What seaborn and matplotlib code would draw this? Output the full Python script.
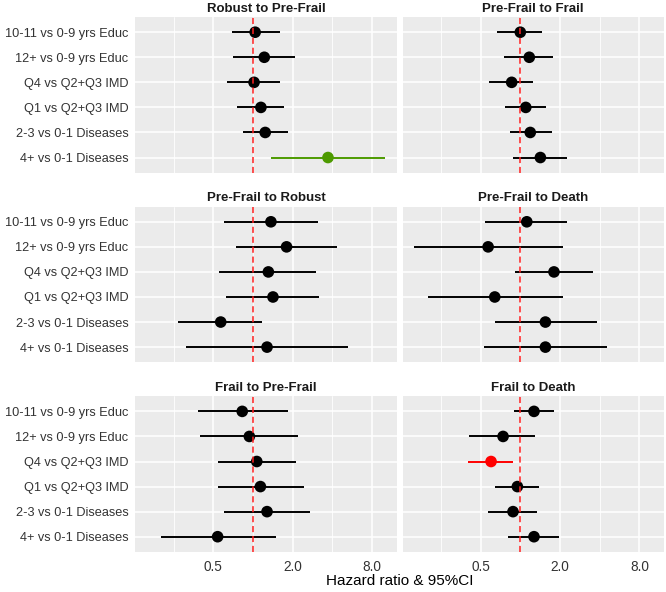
import matplotlib
matplotlib.use("Agg")
import matplotlib.pyplot as plt
import matplotlib.ticker as mticker
import pandas as pd
import seaborn as sns

# Faktörler (yukarıdan aşağıya) ve geçişler
factors = [
    "10-11 vs 0-9 yrs Educ",
    "12+ vs 0-9 yrs Educ",
    "Q4 vs Q2+Q3 IMD",
    "Q1 vs Q2+Q3 IMD",
    "2-3 vs 0-1 Diseases",
    "4+ vs 0-1 Diseases",
]
transitions = [
    "Robust to Pre-Frail",
    "Pre-Frail to Frail",
    "Pre-Frail to Robust",
    "Pre-Frail to Death",
    "Frail to Pre-Frail",
    "Frail to Death",
]

# Hazard ratio, alt ve üst %95 GA
hr_rob_pre = [1.04, 1.22, 1.02, 1.15, 1.24, 3.71]
lo_rob_pre = [0.69, 0.71, 0.64, 0.76, 0.84, 1.38]
hi_rob_pre = [1.60, 2.09, 1.60, 1.72, 1.83, 9.99]

hr_pre_frail = [1.00, 1.17, 0.86, 1.10, 1.19, 1.42]
lo_pre_frail = [0.67, 0.75, 0.58, 0.76, 0.83, 0.88]
hi_pre_frail = [1.45, 1.77, 1.25, 1.57, 1.74, 2.28]

hr_pre_rob = [1.37, 1.80, 1.31, 1.42, 0.57, 1.28]
lo_pre_rob = [0.60, 0.74, 0.55, 0.63, 0.27, 0.31]
hi_pre_rob = [3.10, 4.36, 3.03, 3.17, 1.18, 5.28]

hr_pre_death = [1.12, 0.57, 1.80, 0.64, 1.55, 1.55]
lo_pre_death = [0.54, 0.157, 0.91, 0.20, 0.64, 0.53]
hi_pre_death = [2.28, 2.10, 3.58, 2.10, 3.80, 4.58]

hr_frail_pre = [0.83, 0.94, 1.07, 1.14, 1.28, 0.54]
lo_frail_pre = [0.38, 0.40, 0.54, 0.54, 0.60, 0.20]
hi_frail_pre = [1.86, 2.21, 2.12, 2.43, 2.73, 1.49]

hr_frail_death = [1.27, 0.74, 0.60, 0.95, 0.88, 1.27]
lo_frail_death = [0.89, 0.41, 0.40, 0.64, 0.57, 0.81]
hi_frail_death = [1.80, 1.29, 0.88, 1.39, 1.35, 1.97]

# Anlamlılık: ns / artış / azalış
sig_rob_pre = ["ns", "ns", "ns", "ns", "ns", "up"]
sig_frail_death = ["ns", "ns", "down", "ns", "ns", "ns"]

palette = {"ns": "black", "up": "#4D9A00", "down": "#FF0000"}

series = [
    (hr_rob_pre, lo_rob_pre, hi_rob_pre, sig_rob_pre),
    (hr_pre_frail, lo_pre_frail, hi_pre_frail, ["ns"] * 6),
    (hr_pre_rob, lo_pre_rob, hi_pre_rob, ["ns"] * 6),
    (hr_pre_death, lo_pre_death, hi_pre_death, ["ns"] * 6),
    (hr_frail_pre, lo_frail_pre, hi_frail_pre, ["ns"] * 6),
    (hr_frail_death, lo_frail_death, hi_frail_death, sig_frail_death),
]

rows = []
for trans, (hr, lo, hi, sig) in zip(transitions, series):
    for i, f in enumerate(factors):
        rows.append({"transition": trans, "factor": f, "ypos": i,
                     "hr": hr[i], "lo": lo[i], "hi": hi[i], "sig": sig[i]})
df = pd.DataFrame(rows)

sns.set_theme(style="darkgrid", rc={
    "axes.facecolor": "#EBEBEB",
    "grid.color": "white",
    "axes.edgecolor": "#EBEBEB",
})
plt.rcParams["font.family"] = ["Liberation Sans", "DejaVu Sans"]


def forest(data, **kws):
    ax = plt.gca()
    cols = [palette[s] for s in data["sig"]]
    ax.hlines(data["ypos"], data["lo"], data["hi"], colors=cols, lw=1.4, zorder=2)
    sns.scatterplot(data=data, x="hr", y="ypos", hue="sig", palette=palette,
                    s=70, linewidth=0, legend=False, ax=ax, zorder=3)
    ax.axvline(1, color="#FF2020", ls=(0, (4, 2.5)), lw=1.1, zorder=4)


g = sns.FacetGrid(df, col="transition", col_wrap=2, col_order=transitions,
                  sharex=True, sharey=True, height=2, aspect=1.5)
g.map_dataframe(forest)

g.figure.set_size_inches(6.66, 5.92)
g.figure.subplots_adjust(left=0.203, right=0.997, top=0.971, bottom=0.068,
                         wspace=0.023, hspace=0.22)

for ax, trans in zip(g.axes.flat, transitions):
    ax.set_xscale("log", base=2)
    ax.set_xlim(0.128, 12.3)
    ax.set_ylim(5.6, -0.6)
    ax.xaxis.set_major_locator(mticker.FixedLocator([0.5, 2, 8]))
    ax.xaxis.set_major_formatter(mticker.FixedFormatter(["0.5", "2.0", "8.0"]))
    ax.xaxis.set_minor_locator(mticker.FixedLocator([0.25, 1, 4]))
    ax.xaxis.set_minor_formatter(mticker.NullFormatter())
    ax.set_yticks(range(len(factors)))
    ax.set_yticklabels(factors)
    ax.grid(which="major", color="white", lw=1.1)
    ax.grid(which="minor", axis="x", color="white", lw=0.6)
    ax.tick_params(axis="y", which="major", length=3, width=0.8,
                   color="#333333", labelcolor="#333333", labelsize=9.2, pad=2)
    ax.tick_params(axis="x", which="major", length=3, width=0.8,
                   color="#333333", labelcolor="#333333", labelsize=9.8, pad=3)
    ax.tick_params(axis="x", which="minor", length=0)
    ax.set_title(trans, fontsize=9.5, fontweight="bold", color="#1A1A1A", pad=4)
    ax.set_xlabel("")
    ax.set_ylabel("")
    for sp in ax.spines.values():
        sp.set_visible(False)

for ax in g.axes.flat[:4]:
    ax.tick_params(axis="x", which="major", length=0, labelbottom=False)
for ax in g.axes.flat[1::2]:
    ax.tick_params(axis="y", length=0, labelleft=False)

g.figure.text(0.6, 0.006, "Hazard ratio & 95%CI", ha="center", va="bottom",
              fontsize=11, color="black")

g.figure.savefig("out.png", dpi=100)
plt.close()
